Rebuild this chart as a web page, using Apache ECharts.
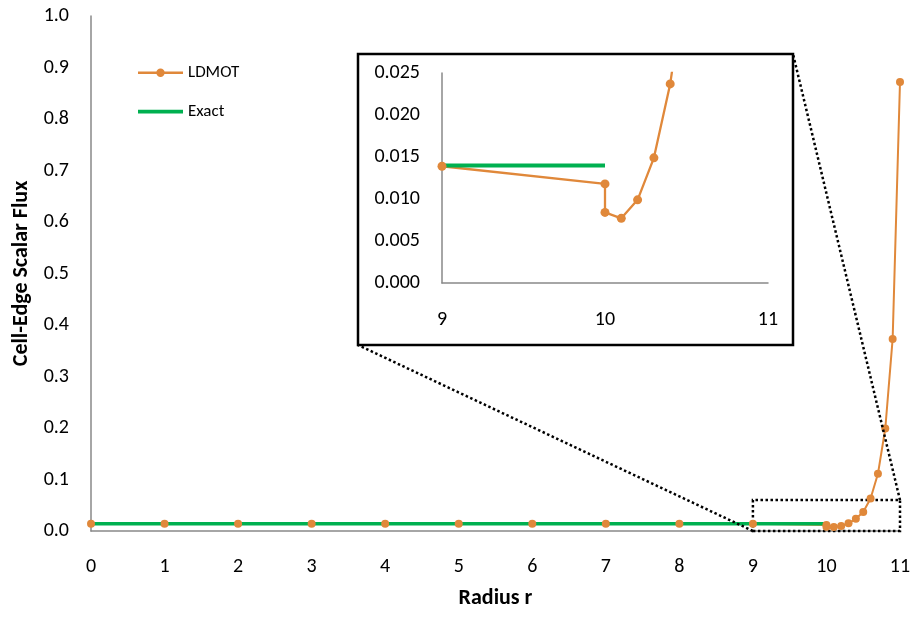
<!DOCTYPE html>
<html>
<head>
<meta charset="utf-8">
<script src="https://cdn.jsdelivr.net/npm/echarts@6/dist/echarts.min.js"></script>
<style>html,body{margin:0;padding:0;background:#fff;}#c{width:914px;height:617px;}</style>
</head>
<body>
<div id="c"></div>
<script>
// ---- data ----
const radius = [0,1,2,3,4,5,6,7,8,9,10,10,10.1,10.2,10.3,10.4,10.5,10.6,10.7,10.8,10.9,11];
const ldmotFlux = [0.0139,0.0139,0.0139,0.0139,0.0139,0.0139,0.0139,0.0139,0.0139,0.0139,
                   0.0118,0.0084,0.0077,0.0099,0.0149,0.0237,0.037,0.063,0.111,0.199,0.373,0.872];
const exactRadius = [0,10];
const exactFlux = [0.014,0.014];
const zoomRange = {x:[9,11], y:[0,0.06]};

const FONT = 'Carlito, Lato, sans-serif';
const ORANGE = '#E0883A';
const GREEN = '#00B050';
const AXIS = '#898989';

const ldmotPts = radius.map((r,i)=>[r, ldmotFlux[i]]);
const exactPts = exactRadius.map((r,i)=>[r, exactFlux[i]]);

// inset box (layout)
const box = {x:358, y:54, w:435, h:291};

// legend icons (line with marker / plain thick line), box 45x16
const ICON_LDMOT = 'path://M0,0h0.01v0.01h-0.01z M45,16h-0.01v-0.01h0.01z M0,7h19v2.4h-19z M26,7h19v2.4h-19z M18.3,8.2a4.2,4.2 0 1,1 8.4,0a4.2,4.2 0 1,1 -8.4,0z';
const ICON_EXACT = 'path://M0,0h0.01v0.01h-0.01z M45,16h-0.01v-0.01h0.01z M0,6.3h45v3.6h-45z';

const chart = echarts.init(document.getElementById('c'));
const labelStyle = {color:'#000', fontSize:20, fontFamily:FONT};
const option = {
  animation:false,
  textStyle:{fontFamily:FONT},
  legend:{
    orient:'vertical', left:133, top:59, itemWidth:45, itemHeight:16, itemGap:22,
    textStyle:{fontSize:17, color:'#000', fontFamily:FONT},
    data:[{name:'LDMOT', icon:ICON_LDMOT},{name:'Exact', icon:ICON_EXACT}]
  },
  grid:[
    {left:91, right:14, top:16, bottom:86},
    {left:442, top:73, width:326, height:210}
  ],
  xAxis:[
    {type:'value', gridIndex:0, min:0, max:11, interval:1,
     name:'Radius r', nameLocation:'middle', nameGap:56,
     nameTextStyle:{fontSize:22, fontWeight:'bold', color:'#000', fontFamily:FONT},
     axisLine:{lineStyle:{color:AXIS, width:1.5}}, axisTick:{show:false}, splitLine:{show:false},
     axisLabel:Object.assign({margin:26}, labelStyle)},
    {type:'value', gridIndex:1, min:9, max:11, interval:1, z:11,
     axisLine:{lineStyle:{color:AXIS, width:1.5}}, axisTick:{show:false}, splitLine:{show:false},
     axisLabel:Object.assign({margin:27}, labelStyle)}
  ],
  yAxis:[
    {type:'value', gridIndex:0, min:0, max:1, interval:0.1,
     name:'Cell-Edge Scalar Flux', nameLocation:'middle', nameGap:58, nameRotate:90,
     nameTextStyle:{fontSize:22, fontWeight:'bold', color:'#000', fontFamily:FONT},
     axisLine:{show:true, lineStyle:{color:AXIS, width:1.5}}, axisTick:{show:false}, splitLine:{show:false},
     axisLabel:Object.assign({margin:22, formatter:v=>v.toFixed(1)}, labelStyle)},
    {type:'value', gridIndex:1, min:0, max:0.025, interval:0.005, z:11,
     axisLine:{show:true, lineStyle:{color:AXIS, width:1.5}}, axisTick:{show:false}, splitLine:{show:false},
     axisLabel:Object.assign({margin:22, formatter:v=>v.toFixed(3)}, labelStyle)}
  ],
  series:[
    {name:'LDMOT', type:'line', xAxisIndex:0, yAxisIndex:0, data:ldmotPts,
     symbol:'circle', symbolSize:8, color:ORANGE,
     lineStyle:{width:2, color:ORANGE}, itemStyle:{color:ORANGE},
     markArea:{silent:true, label:{show:false},
       itemStyle:{color:'rgba(0,0,0,0)', borderColor:'#000', borderWidth:2.5, borderType:[2.5,2.5]},
       data:[[{coord:[zoomRange.x[0], zoomRange.y[0]]},{coord:[zoomRange.x[1], zoomRange.y[1]]}]]}},
    {name:'Exact', type:'line', xAxisIndex:0, yAxisIndex:0, data:exactPts,
     symbol:'none', color:GREEN, lineStyle:{width:3.5, color:GREEN}},
    {name:'LDMOT', type:'line', xAxisIndex:1, yAxisIndex:1, data:ldmotPts, z:12, clip:true,
     symbol:'circle', symbolSize:9, color:ORANGE,
     lineStyle:{width:2.3, color:ORANGE}, itemStyle:{color:ORANGE}},
    {name:'Exact', type:'line', xAxisIndex:1, yAxisIndex:1, data:exactPts, z:12, clip:true,
     symbol:'none', color:GREEN, lineStyle:{width:4, color:GREEN}}
  ]
};
chart.setOption(option);

const tr = chart.convertToPixel({gridIndex:0}, [zoomRange.x[1], zoomRange.y[1]]);
const bl = chart.convertToPixel({gridIndex:0}, [zoomRange.x[0], zoomRange.y[0]]);
chart.setOption({
  graphic:{elements:[
    {type:'line', z:9, shape:{x1:tr[0], y1:tr[1], x2:box.x+box.w, y2:box.y},
     style:{stroke:'#000', lineWidth:2.5, lineDash:[2.5,2.5]}},
    {type:'line', z:9, shape:{x1:bl[0], y1:bl[1], x2:box.x, y2:box.y+box.h},
     style:{stroke:'#000', lineWidth:2.5, lineDash:[2.5,2.5]}},
    {type:'rect', z:10, shape:{x:box.x, y:box.y, width:box.w, height:box.h},
     style:{fill:'#fff', stroke:'#000', lineWidth:2.5}}
  ]}
});
</script>
</body>
</html>
